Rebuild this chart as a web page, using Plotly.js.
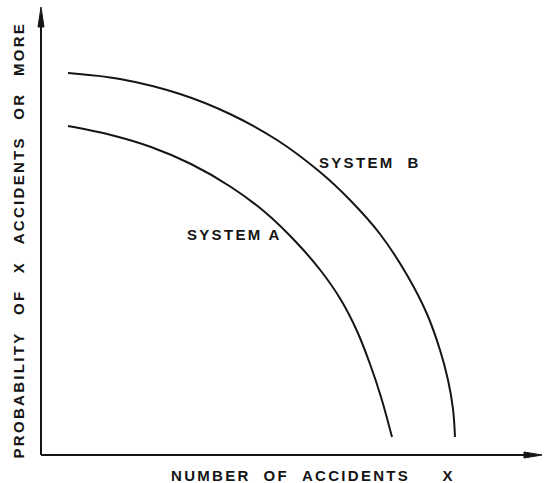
<!DOCTYPE html>
<html>
<head>
<meta charset="utf-8">
<script src="https://cdn.plot.ly/plotly-3.0.1.min.js"></script>
<style>
  html, body { margin: 0; padding: 0; background: #fff; }
  #chart { width: 545px; height: 483px; }
  .annotation-text { letter-spacing: 2.3px; }
</style>
</head>
<body>
<div id="chart"></div>
<script>
// Values (arbitrary units: number of accidents vs probability)
const systemA_x = [27, 70, 110, 150, 190, 225, 255, 280, 300, 316, 329, 340, 351];
const systemA_y = [329, 320, 308, 291, 268, 242, 213, 184, 155, 124, 91, 58, 18];
const systemB_x = [27, 79, 139, 189, 236, 279, 309, 339, 366, 386, 399, 407, 412, 414];
const systemB_y = [382, 376, 361, 341, 315, 283, 255, 221, 180, 141, 105, 75, 46, 18];

const labelA = "SYSTEM A";
const labelB = "SYSTEM\u00a0\u00a0B";
const xTitle = "NUMBER\u00a0\u00a0OF\u00a0\u00a0ACCIDENTS\u00a0\u00a0\u00a0\u00a0\u00a0X";
const yTitle = ["PROBABILITY", "OF", "X", "ACCIDENTS", "OR", "MORE"].join("\u00a0\u00a0\u200a");

const ink = "#151515";
const font = {family: "Liberation Sans, Arial, sans-serif", size: 15, color: ink, weight: "bold"};

const traces = [
  {x: systemA_x, y: systemA_y, mode: "lines", name: "System A",
   line: {color: ink, width: 2, shape: "spline", smoothing: 1}, hoverinfo: "skip"},
  {x: systemB_x, y: systemB_y, mode: "lines", name: "System B",
   line: {color: ink, width: 2, shape: "spline", smoothing: 1}, hoverinfo: "skip"}
];

const axisCommon = {showgrid: false, zeroline: false, showline: false, showticklabels: false, ticks: "", fixedrange: true};

const layout = {
  width: 545, height: 483,
  margin: {l: 41, r: 3, t: 7, b: 28},
  paper_bgcolor: "#fff", plot_bgcolor: "#fff",
  showlegend: false,
  xaxis: Object.assign({range: [0, 501]}, axisCommon),
  yaxis: Object.assign({range: [0, 448]}, axisCommon),
  shapes: [
    {type: "line", xref: "paper", yref: "paper", x0: 0, y0: 0, x1: 0, y1: 0.97, line: {color: ink, width: 2}},
    {type: "line", xref: "paper", yref: "paper", x0: 0, y0: 0, x1: 0.98, y1: 0, line: {color: ink, width: 2}},
    {type: "path", xref: "paper", yref: "paper", xsizemode: "pixel", ysizemode: "pixel",
     xanchor: 0, yanchor: 1, path: "M0,0 L-3,-20 L3,-20 Z", fillcolor: ink, line: {color: ink, width: 1}},
    {type: "path", xref: "paper", yref: "paper", xsizemode: "pixel", ysizemode: "pixel",
     xanchor: 1, yanchor: 0, path: "M0,0 L-18,-3 L-18,3 Z", fillcolor: ink, line: {color: ink, width: 1}}
  ],
  annotations: [
    {text: labelB, x: 329, y: 292.5, xref: "x", yref: "y", showarrow: false, font: font, xanchor: "center", yanchor: "middle"},
    {text: labelA, x: 193, y: 221, xref: "x", yref: "y", showarrow: false, font: font, xanchor: "center", yanchor: "middle"},
    {text: xTitle, x: 128 / 501, y: -20 / 448, xref: "paper", yref: "paper", showarrow: false, font: font, xanchor: "left", yanchor: "middle"},
    {text: yTitle, x: -23.5 / 501, y: 215 / 448, xref: "paper", yref: "paper", showarrow: false, font: font, textangle: -90, xanchor: "center", yanchor: "middle"}
  ]
};

Plotly.newPlot("chart", traces, layout, {displayModeBar: false, staticPlot: true});
</script>
</body>
</html>
